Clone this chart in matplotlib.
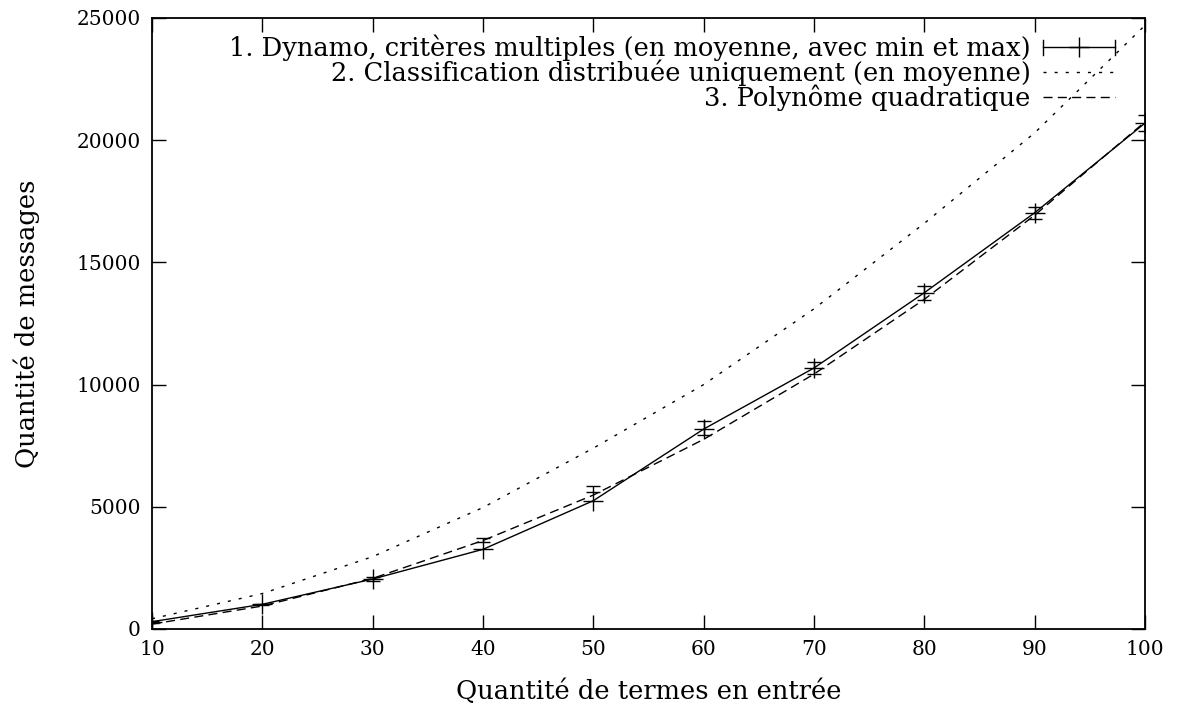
import numpy as np
import matplotlib
matplotlib.use("Agg")
import matplotlib.pyplot as plt
from matplotlib.lines import Line2D
from matplotlib.legend_handler import HandlerBase

# ---- data ----
terms = [10, 20, 30, 40, 50, 60, 70, 80, 90, 100]
dynamo_mean = [300, 1010, 2045, 3260, 5250, 8180, 10680, 13760, 17030, 20700]
dynamo_min = [260, 980, 1980, 3570, 5590, 7940, 10440, 13460, 16760, 20390]
dynamo_max = [340, 1040, 2110, 3740, 5860, 8510, 10940, 14030, 17280, 21030]
classif_mean = [420, 1450, 2960, 4970, 7400, 10000, 13100, 16600, 20300, 24700]
quad_poly = [200, 940, 2070, 3620, 5480, 7760, 10430, 13490, 16930, 20750]

labels = ["1. Dynamo, critères multiples (en moyenne, avec min et max)",
          "2. Classification distribuée uniquement (en moyenne)",
          "3. Polynôme quadratique"]
xticks = [10, 20, 30, 40, 50, 60, 70, 80, 90, 100]
yticks = [0, 5000, 10000, 15000, 20000, 25000]

plt.rcParams['font.family'] = ['DejaVu Serif']
FS = 18.5      # legend & axis labels
TFS = 14.5     # tick labels

fig = plt.figure(figsize=(11.78, 7.09), dpi=100)
ax = fig.add_axes([152/1178, 1-629/709, (1145-152)/1178, (629-18)/709])

lw = 1.0
# 1. Dynamo with error bars
mid = [(a + b) / 2 for a, b in zip(dynamo_min, dynamo_max)]
half = [(b - a) / 2 for a, b in zip(dynamo_min, dynamo_max)]
ax.errorbar(terms, mid, yerr=half, fmt='none', ecolor='k', elinewidth=lw,
            capsize=5, capthick=lw, zorder=3)
ax.plot(terms, dynamo_mean, color='k', lw=lw, marker='+', ms=14, mew=lw, zorder=3)
# 2. Classification
ax.plot(terms, classif_mean, color='k', lw=lw, linestyle=(0, (2.2, 5.8)))
# 3. Quadratic polynomial
ax.plot(terms, quad_poly, color='k', lw=lw, linestyle=(0, (6.5, 3.8)))

ax.set_xlim(10, 100)
ax.set_ylim(0, 25000)
ax.set_xticks(xticks)
ax.set_yticks(yticks)
ax.tick_params(direction='in', length=10, width=1.0, top=True, right=True,
               labelsize=TFS, pad=8)
for s in ax.spines.values():
    s.set_linewidth(1.3)

ax.set_xlabel("Quantité de termes en entrée", fontsize=FS, labelpad=14)
ax.set_ylabel("Quantité de messages", fontsize=FS, labelpad=26)


class HandlerGnuErr(HandlerBase):
    def create_artists(self, legend, orig_handle, xdescent, ydescent, width,
                       height, fontsize, trans):
        y = height / 2 - ydescent
        x0 = -xdescent
        x1 = -xdescent + width
        cap = 5.5
        arts = [Line2D([x0, x1], [y, y], color='k', lw=lw),
                Line2D([x0, x0], [y - cap, y + cap], color='k', lw=lw),
                Line2D([x1, x1], [y - cap, y + cap], color='k', lw=lw),
                Line2D([(x0 + x1) / 2], [y], marker='+', ms=14, mew=lw, color='k', lw=0)]
        for a in arts:
            a.set_transform(trans)
        return arts


h1 = Line2D([], [], color='k')
h2 = Line2D([], [], color='k', lw=lw, linestyle=(0, (2.2, 5.8)))
h3 = Line2D([], [], color='k', lw=lw, linestyle=(0, (6.5, 3.8)))
leg = ax.legend([h1, h2, h3], labels, loc='upper right', frameon=False,
                markerfirst=False, fontsize=FS, handlelength=2.8,
                handletextpad=0.5, labelspacing=-0.06, borderaxespad=0.0,
                borderpad=0.3,
                bbox_to_anchor=(1 - 22/993, 1.0 - 9/611),
                handler_map={h1: HandlerGnuErr()})

fig.savefig("out.png", dpi=100)
